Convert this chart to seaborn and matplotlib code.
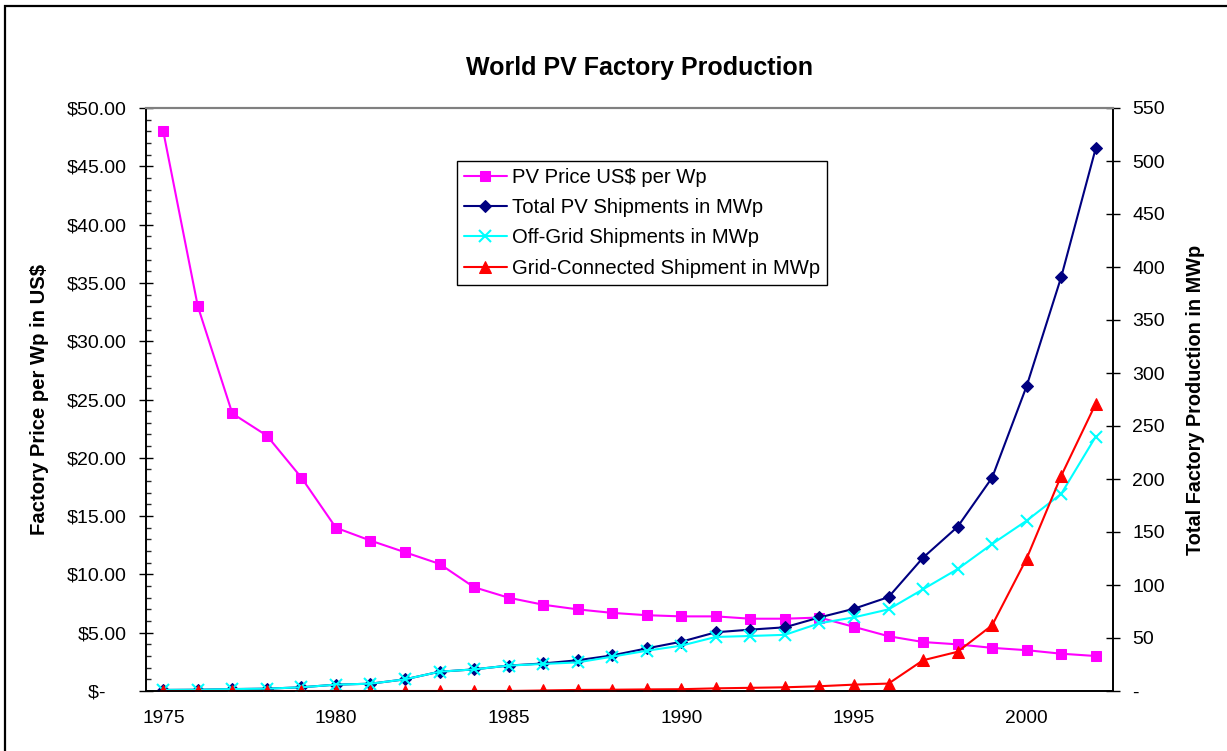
import matplotlib
matplotlib.use("Agg")
import matplotlib.pyplot as plt
from matplotlib.patches import Rectangle
from matplotlib.ticker import MultipleLocator, FixedLocator, FuncFormatter
import seaborn as sns
import pandas as pd

years = list(range(1975, 2003))
price_usd_per_wp = [48.0, 33.0, 23.8, 21.9, 18.3, 14.0, 12.9, 11.9, 10.9, 8.9,
                    8.0, 7.4, 7.0, 6.7, 6.5, 6.4, 6.4, 6.2, 6.2, 6.3,
                    5.5, 4.7, 4.2, 4.0, 3.7, 3.5, 3.2, 3.0]
total_mwp = [1.0, 1.2, 1.8, 2.2, 3.5, 6.0, 6.9, 11.0, 18.2, 20.4,
             24.0, 26.0, 29.0, 33.6, 40.2, 46.5, 55.4, 57.9, 60.1, 69.4,
             77.6, 88.6, 125.8, 154.9, 201.3, 287.7, 390.5, 512.0]
offgrid_mwp = [1.0, 1.2, 1.8, 2.2, 3.5, 6.0, 6.9, 11.0, 18.2, 20.4,
               24.0, 25.5, 27.0, 32.4, 38.0, 42.8, 51.0, 51.9, 53.0, 63.9,
               69.5, 77.0, 96.0, 115.0, 138.7, 160.7, 186.0, 240.0]
grid_mwp = [0.0, 0.0, 0.0, 0.0, 0.0, 0.0, 0.0, 0.0, 0.0, 0.0,
            0.0, 0.5, 1.0, 1.2, 1.5, 1.7, 2.5, 3.0, 3.5, 4.5,
            6.0, 7.0, 29.0, 37.0, 62.0, 125.0, 203.0, 271.0]

labels = ["PV Price US$ per Wp", "Total PV Shipments in MWp",
          "Off-Grid Shipments in MWp", "Grid-Connected Shipment in MWp"]

sns.set_theme(style="white")
plt.rcParams["font.family"] = ["Liberation Sans", "DejaVu Sans"]
plt.rcParams["text.color"] = "black"
plt.rcParams["axes.labelcolor"] = "black"

df = pd.DataFrame({"year": years, "price": price_usd_per_wp, "total": total_mwp,
                   "offgrid": offgrid_mwp, "grid": grid_mwp})

fig = plt.figure(figsize=(12.27, 7.51), dpi=100)
fig.patch.set_facecolor("white")
ax = fig.add_axes([146 / 1227, 1 - 691 / 751, (1113 - 146) / 1227, (691 - 108) / 751])
ax2 = ax.twinx()

lw = 1.5
sns.lineplot(data=df, x="year", y="price", ax=ax, color="#FF00FF", marker="s",
             markersize=7.5, markeredgecolor="#FF00FF", linewidth=lw,
             label=labels[0], legend=False)
sns.lineplot(data=df, x="year", y="total", ax=ax2, color="#000080", marker="D",
             markersize=6.5, markeredgecolor="#000080", linewidth=lw,
             label=labels[1], legend=False)
sns.lineplot(data=df, x="year", y="offgrid", ax=ax2, color="#00FFFF", marker="x",
             markersize=8, markeredgecolor="#00FFFF", markeredgewidth=1.5, linewidth=lw,
             label=labels[2], legend=False)
sns.lineplot(data=df, x="year", y="grid", ax=ax2, color="#FF0000", marker="^",
             markersize=8, markeredgecolor="#FF0000", linewidth=lw,
             label=labels[3], legend=False)

ax.set_xlim(1974.5, 2002.5)
ax.set_ylim(0, 50)
ax2.set_ylim(0, 550)

# x axis: labels every five years, tick marks on category boundaries
ax.xaxis.set_major_locator(FixedLocator([1975, 1980, 1985, 1990, 1995, 2000]))
ax.xaxis.set_minor_locator(FixedLocator([1974.5 + i for i in range(29)]))
ax.tick_params(axis="x", which="major", length=0, pad=14, labelsize=13.8, colors="black")
ax.tick_params(axis="x", which="minor", length=7, width=1, direction="inout", color="black")

# left axis in dollars
def dollar_fmt(v, pos):
    return "$-    " if abs(v) < 1e-9 else f"${v:.2f}"

ax.yaxis.set_major_locator(MultipleLocator(5))
ax.yaxis.set_minor_locator(MultipleLocator(1))
ax.yaxis.set_major_formatter(FuncFormatter(dollar_fmt))
ax.tick_params(axis="y", which="major", length=9.5, width=1, direction="inout",
               pad=9, labelsize=14, colors="black", left=True)
ax.tick_params(axis="y", which="minor", length=3.6, width=1, direction="in", left=True)

# right axis in MWp
def mw_fmt(v, pos):
    return "-" if abs(v) < 1e-9 else f"{v:.0f}"

ax2.yaxis.set_major_locator(MultipleLocator(50))
ax2.yaxis.set_major_formatter(FuncFormatter(mw_fmt))
ax2.tick_params(axis="y", which="major", length=9.5, width=1, direction="inout",
                pad=9, labelsize=14, colors="black", right=True)

ax.set_xlabel("")
ax.set_ylabel("Factory Price per Wp in US$", fontsize=14.6, fontweight="bold")
ax2.set_ylabel("Total Factory Production in MWp", fontsize=14.3, fontweight="bold")
ax.yaxis.set_label_coords(-0.1003, 0.5)
ax2.yaxis.set_label_coords(1.0755, 0.5)

for a in (ax, ax2):
    a.grid(False)
    for side in ("left", "right", "bottom"):
        a.spines[side].set_color("black")
        a.spines[side].set_linewidth(1.2)
    a.spines["top"].set_color("#808080")
    a.spines["top"].set_linewidth(1.5)

h1, l1 = ax.get_legend_handles_labels()
h2, l2 = ax2.get_legend_handles_labels()
leg = ax2.legend(h1 + h2, l1 + l2, loc="upper left", bbox_to_anchor=(0.3216, 0.909),
                 fontsize=14.6, frameon=True, fancybox=False, framealpha=1,
                 edgecolor="black", borderpad=0.35, labelspacing=0.55,
                 handlelength=2.1, handletextpad=0.25, borderaxespad=0, numpoints=1)
leg.get_frame().set_linewidth(1.0)
for t in leg.get_texts():
    t.set_color("black")

fig.text(640 / 1227, 1 - 68 / 751, "World PV Factory Production", ha="center", va="center",
         fontsize=18, fontweight="bold", color="black")

fig.add_artist(Rectangle((5 / 1227, -0.1), 1.2, 1 - 6 / 751 + 0.1, transform=fig.transFigure,
                         fill=False, edgecolor="black", linewidth=1.6))

fig.savefig("out.png", dpi=100, facecolor="white")
